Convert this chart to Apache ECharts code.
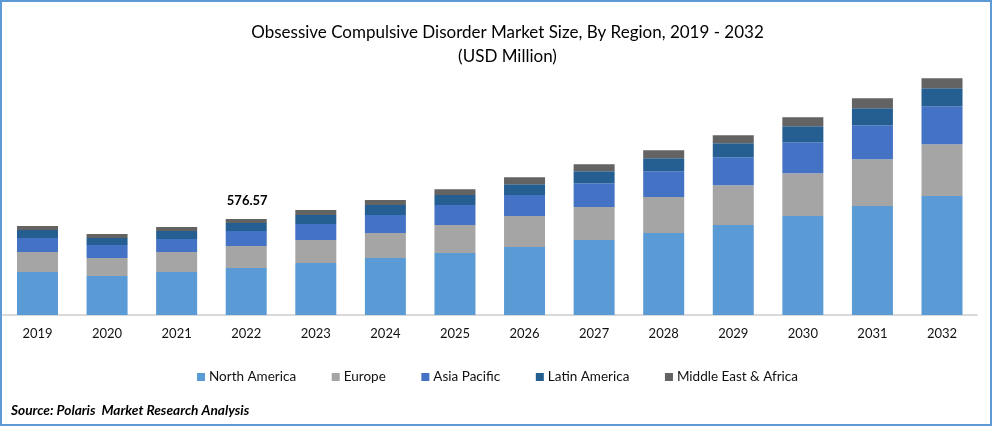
<!DOCTYPE html>
<html><head><meta charset="utf-8">
<style>html,body{margin:0;padding:0;background:#fff}#c{width:992px;height:426px}</style>
<script src="https://cdn.jsdelivr.net/npm/echarts@6/dist/echarts.min.js"></script>
</head><body><div id="c"></div>
<script>
const years=['2019','2020','2021','2022','2023','2024','2025','2026','2027','2028','2029','2030','2031','2032'];
const northAmerica=[258,234,258,282,312,342,372,408,450,492,540,594,654,714];
const europe=[120,108,120,132,138,150,168,186,198,216,240,258,282,312];
const asiaPacific=[84,78,78,90,96,108,120,126,144,156,168,186,204,228];
const latinAmerica=[48,42,48,48,54,60,60,66,72,78,84,96,102,108];
const middleEast=[24,24,24,24.57,30,30,36,42,42,48,48,54,60,60];
const labelledYear='2022';
const labelledText='576.57';
const names=['North America','Europe','Asia Pacific','Latin America','Middle East & Africa'];
const colors=['#5b9bd5','#a5a5a5','#4472c4','#255e91','#636363'];
const values=[northAmerica,europe,asiaPacific,latinAmerica,middleEast];
const font='Lato, Carlito, sans-serif';
const chart=echarts.init(document.getElementById('c'),null,{renderer:'canvas'});
chart.setOption({
  animation:false,
  backgroundColor:'#fff',
  title:[
    {text:'Obsessive Compulsive Disorder Market Size, By Region, 2019 - 2032',left:502.5,top:19,textAlign:'center',
     textStyle:{fontFamily:font,fontSize:17,fontWeight:'normal',color:'#000'}},
    {text:'(USD Million)',left:502.5,top:43,textAlign:'center',
     textStyle:{fontFamily:font,fontSize:17,fontWeight:'normal',color:'#000'}},
    {text:'Source: Polaris  Market Research Analysis',left:6,top:399,
     textStyle:{fontFamily:font,fontSize:13.7,fontWeight:'bold',fontStyle:'italic',color:'#000'}}
  ],
  legend:{left:192,top:365,itemWidth:8,itemHeight:8,itemGap:35.6,icon:'rect',
    textStyle:{fontFamily:font,fontSize:13.5,color:'#111',padding:[0,0,0,-1]},data:names},
  grid:{left:2.7,width:974.1,top:65.25,height:249.75},
  xAxis:{type:'category',data:years,axisTick:{show:false},
    axisLine:{lineStyle:{color:'#d9d9d9',width:2}},
    axisLabel:{fontFamily:font,fontSize:13,color:'#111',margin:12}},
  yAxis:{type:'value',min:0,max:1500,show:false,splitLine:{show:false}},
  series:names.map((n,i)=>({
    name:n,type:'bar',stack:'total',barWidth:41,
    itemStyle:{color:colors[i]},
    data:values[i].map((v,k)=>(i===4&&years[k]===labelledYear)
      ?{value:v,label:{show:true,position:'top',distance:12,offset:[1,0],formatter:labelledText,
        fontFamily:font,fontSize:13,fontWeight:'bold',color:'#000'}}:v)
  })),
  graphic:[
    {type:'rect',shape:{x:1,y:1,width:990,height:424},silent:true,
     style:{fill:'none',stroke:'#5b9bd5',lineWidth:2}}
  ]
});
</script></body></html>
